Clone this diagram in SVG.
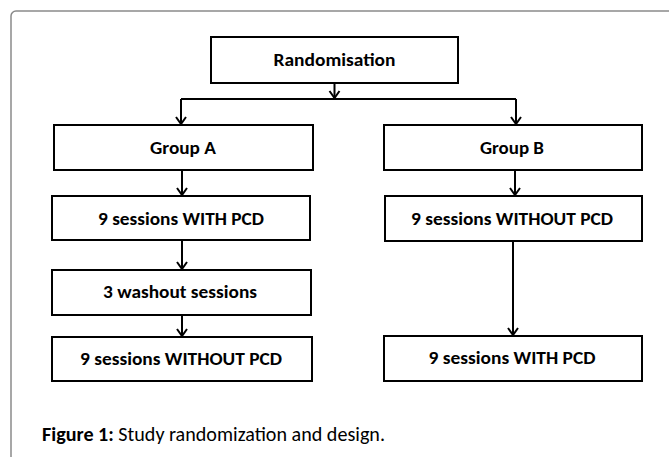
<svg xmlns="http://www.w3.org/2000/svg" width="669" height="457" viewBox="0 0 669 457">
<style>
.box{fill:#fff;stroke:#000;stroke-width:2}
.lbl{font-family:Carlito,"Liberation Sans",Arial,sans-serif;font-weight:bold;font-size:19px;text-anchor:middle;fill:#000}
.con{fill:none;stroke:#000;stroke-width:2}
.cap{font-family:Carlito,"Liberation Sans",Arial,sans-serif;font-size:20px;fill:#000}
</style>
<defs>
<marker id="arr" markerUnits="userSpaceOnUse" markerWidth="14" markerHeight="14" viewBox="-9 -7 11 14" refX="0" refY="0" orient="auto">
<path d="M-7,-5 L0,0 L-7,5" fill="none" stroke="#000" stroke-width="2"/>
</marker>
</defs>
<rect x="11" y="11" width="720" height="520" rx="5" fill="#fff" stroke="#8a8a8a" stroke-width="1.5"/>
<g id="connectors">
<line class="con" x1="334.5" y1="83" x2="334.5" y2="98" marker-end="url(#arr)"/>
<line class="con" x1="181" y1="99" x2="516" y2="99"/>
<line class="con" x1="181" y1="99" x2="181" y2="124" marker-end="url(#arr)"/>
<line class="con" x1="516" y1="99" x2="516" y2="124" marker-end="url(#arr)"/>
<line class="con" x1="182" y1="170" x2="182" y2="195" marker-end="url(#arr)"/>
<line class="con" x1="182" y1="240" x2="182" y2="269" marker-end="url(#arr)"/>
<line class="con" x1="182" y1="315" x2="182" y2="336" marker-end="url(#arr)"/>
<line class="con" x1="515" y1="170" x2="515" y2="195" marker-end="url(#arr)"/>
<line class="con" x1="513" y1="241" x2="513" y2="335" marker-end="url(#arr)"/>
</g>
<g id="randomisation">
<rect class="box" x="211" y="37" width="247" height="46"/>
<text class="lbl" x="334.5" y="66" textLength="122" lengthAdjust="spacingAndGlyphs">Randomisation</text>
</g>
<g id="groupA">
<rect class="box" x="54" y="125" width="259" height="45"/>
<text class="lbl" x="183" y="154" textLength="66" lengthAdjust="spacingAndGlyphs">Group A</text>
</g>
<g id="groupB">
<rect class="box" x="384" y="125" width="258" height="45"/>
<text class="lbl" x="512" y="154" textLength="64" lengthAdjust="spacingAndGlyphs">Group B</text>
</g>
<g id="a1">
<rect class="box" x="52" y="196" width="258" height="44"/>
<text class="lbl" x="181" y="225" textLength="166" lengthAdjust="spacingAndGlyphs">9 sessions WITH PCD</text>
</g>
<g id="b1">
<rect class="box" x="385" y="196" width="257" height="45"/>
<text class="lbl" x="512" y="225" textLength="202" lengthAdjust="spacingAndGlyphs">9 sessions WITHOUT PCD</text>
</g>
<g id="a2">
<rect class="box" x="52" y="270" width="259" height="45"/>
<text class="lbl" x="180" y="298" textLength="154" lengthAdjust="spacingAndGlyphs">3 washout sessions</text>
</g>
<g id="a3">
<rect class="box" x="52" y="337" width="260" height="44"/>
<text class="lbl" x="181" y="365" textLength="202" lengthAdjust="spacingAndGlyphs">9 sessions WITHOUT PCD</text>
</g>
<g id="b2">
<rect class="box" x="384" y="336" width="258" height="45"/>
<text class="lbl" x="512" y="364" textLength="167" lengthAdjust="spacingAndGlyphs">9 sessions WITH PCD</text>
</g>
<text class="cap" x="42" y="441" textLength="343" lengthAdjust="spacingAndGlyphs"><tspan font-weight="bold">Figure 1:</tspan> Study randomization and design.</text>
</svg>
